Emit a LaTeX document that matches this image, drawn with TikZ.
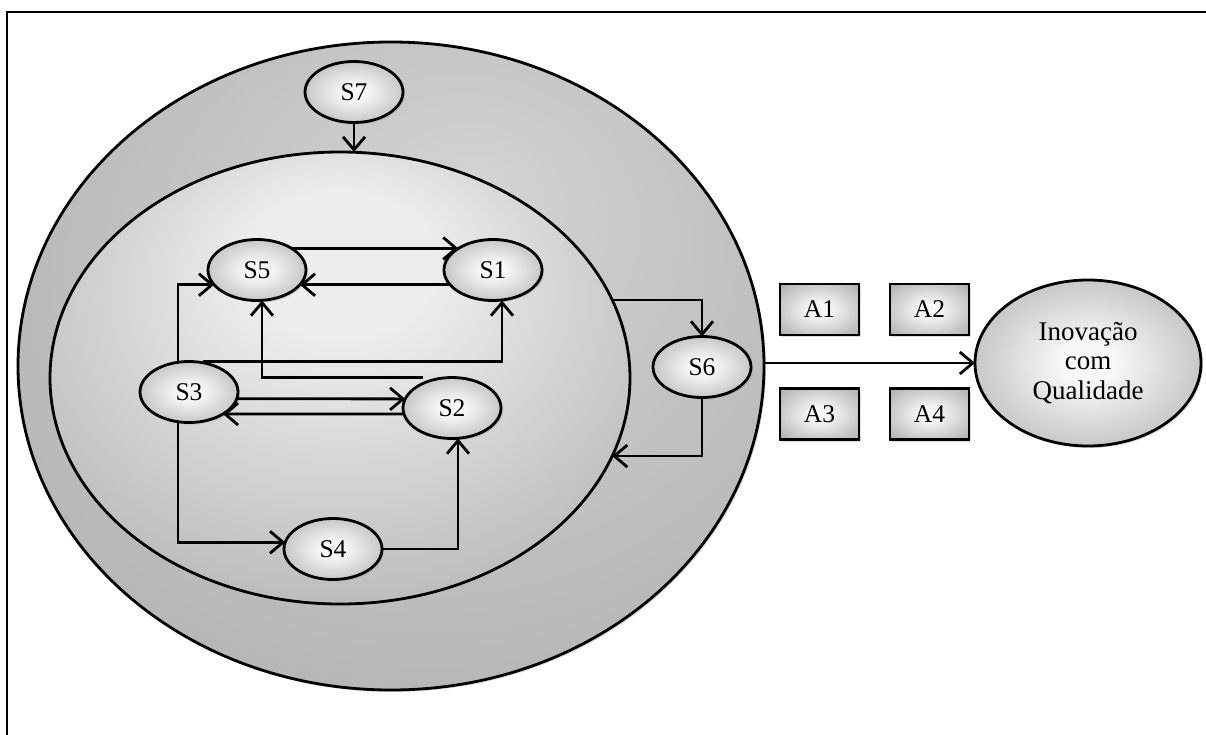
\documentclass[tikz,border=0pt]{standalone}
\usepackage{fontspec}
\setmainfont{Liberation Serif}
\usetikzlibrary{shapes.geometric,arrows.meta,shadows}

% grey tones of the shaded shapes
\definecolor{ballLight}{gray}{0.97}
\definecolor{ballEdge}{gray}{0.54}
\definecolor{outerLight}{gray}{0.83}
\definecolor{outerMid}{gray}{0.72}
\definecolor{outerEdge}{gray}{0.59}
\definecolor{innerLight}{gray}{0.93}
\definecolor{innerEdge}{gray}{0.58}

% radial shadings; the last stop (50bp) lies on the border of the shape
\pgfdeclareradialshading{smallball}{\pgfpoint{0bp}{0bp}}{%
  color(0bp)=(ballLight); color(6bp)=(ballLight);
  color(50bp)=(ballEdge)}
\pgfdeclareradialshading{outerball}{\pgfpoint{6bp}{14bp}}{%
  color(0bp)=(outerLight); color(30bp)=(outerMid);
  color(50bp)=(outerEdge)}
\pgfdeclareradialshading{innerball}{\pgfpoint{0bp}{15bp}}{%
  color(0bp)=(innerLight); color(8bp)=(innerLight);
  color(50bp)=(innerEdge)}

\tikzset{
  every node/.style={inner sep=0pt, outer sep=0pt},
  soft shadow/.style={drop shadow={opacity=0.25, shadow xshift=2pt, shadow yshift=-2pt}},
  stage/.style={ellipse, draw, line width=2.8pt, shading=smallball,
    minimum width=98pt, minimum height=61pt, soft shadow,
    font=\fontsize{25.5}{29}\selectfont},
  actionbox/.style={rectangle, draw, line width=2.8pt, shading=smallball,
    minimum width=79pt, minimum height=51pt, soft shadow,
    font=\fontsize{25.5}{29}\selectfont},
  goal/.style={ellipse, draw, line width=2.8pt, shading=smallball,
    minimum width=226pt, minimum height=166pt, soft shadow, align=center,
    font=\fontsize{27}{29.5}\selectfont},
  region/.style={ellipse, draw, line width=2.8pt},
  arr/.style={line width=2.8pt, -{Straight Barb[length=13pt,width=22pt]}},
}

\begin{document}
\begin{tikzpicture}[x=1pt, y=-1pt]
\useasboundingbox (0,0) rectangle (1206,735);

% outer frame (only top and left sides fall inside the page)
\draw[line width=2.2pt] (7,735) -- (7,12) -- (1206,12);

% nested regions
\node[region, shading=outerball, soft shadow,
      minimum width=746pt, minimum height=648pt] (outer) at (391,366) {};
\node[region, shading=innerball,
      minimum width=580pt, minimum height=452pt] (inner) at (340,378) {};

% stages
\node[stage] (S7) at (354,92) {S7};
\node[stage] (S5) at (257,270) {S5};
\node[stage] (S1) at (493,270) {S1};
\node[stage] (S3) at (189,392) {S3};
\node[stage] (S2) at (452,408) {S2};
\node[stage] (S4) at (333,549) {S4};
\node[stage] (S6) at (702,367) {S6};

% actions
\node[actionbox] (A1) at (819.5,309.5) {A1};
\node[actionbox] (A2) at (929.5,309.5) {A2};
\node[actionbox] (A3) at (819.5,414) {A3};
\node[actionbox] (A4) at (929.5,414) {A4};

% result
\node[goal] (goal) at (1088,363) {Inovação\\com\\Qualidade};

% connectors
\draw[arr] (S7.south) -- (S7.south |- inner.north);
\draw[arr] (S5.north east) -- (S1.north west);
\draw[arr] (S1.199) -- (S5.341);
\draw[arr] ([xshift=-11pt]S3.north) |- (S5.199);
\draw[arr] ([xshift=14pt]S3.north) -| ([xshift=9pt]S1.south);
\coordinate (fromS2) at ([xshift=-29pt]S2.north);
\draw[arr] (fromS2) -| ([xshift=5pt]S5.south);
\draw[arr] (S3.352) -- (S2.169);
\draw[arr] (S2.187) -- (S3.327);
\draw[arr] ([xshift=-11pt]S3.south) |- (S4.172);
\draw[arr] (S4.east) -| ([xshift=6pt]S2.south);
\draw[arr] (inner.16) -| (S6.north);
\draw[arr] (S6.south) |- (inner.344);
\draw[arr] (outer.east |- goal.west) -- (goal.west);
\end{tikzpicture}
\end{document}
